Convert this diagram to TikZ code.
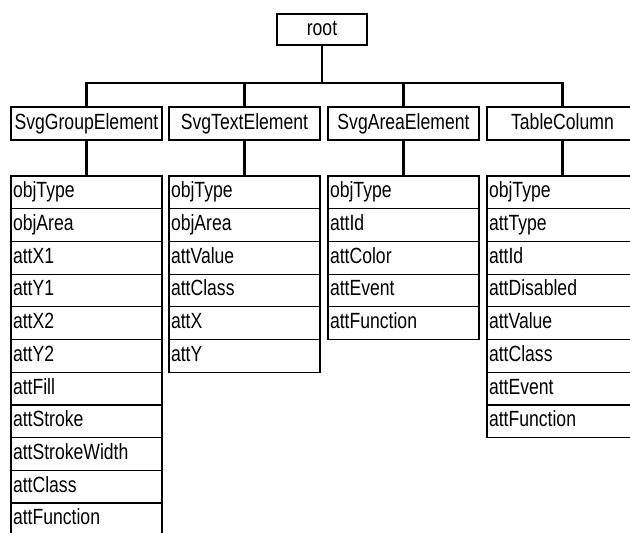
\documentclass[tikz,border=0pt]{standalone}
\usepackage{fontspec}
\setmainfont{Liberation Sans}
\newcommand{\lbl}[1]{\scalebox{0.8}[1]{\fontsize{22}{22}\selectfont #1}}
\tikzset{
  box/.style={draw=black, line width=1.2pt, inner sep=0pt, minimum height=33pt, minimum width=151pt, text height=16pt, text depth=5pt},
  rootbox/.style={draw=black, line width=1.2pt, inner sep=0pt, minimum height=31pt, minimum width=90pt, text height=16pt, text depth=5pt},
  rowbox/.style={draw=black, line width=1.2pt, inner xsep=2pt, inner ysep=0pt, text width=147pt, align=left, minimum height=32.7pt, text height=16pt, text depth=5pt},
  conn/.style={draw=black, line width=2.8pt}
}
\begin{document}
\begin{tikzpicture}[x=1pt,y=-1pt]
\useasboundingbox[fill=white] (0,0) rectangle (630,533);
\node[rootbox] (root) at (322,29.5) {\lbl{root}};
\node[box] (sge) at (86.5,123.5) {\lbl{SvgGroupElement}};
\node[box] (ste) at (244.5,123.5) {\lbl{SvgTextElement}};
\node[box] (sae) at (403.5,123.5) {\lbl{SvgAreaElement}};
\node[box] (tc) at (562.5,123.5) {\lbl{TableColumn}};
\coordinate (bar) at (322,83);
\foreach \t [count=\i] in {objType,objArea,attX1,attY1,attX2,attY2,attFill,attStroke,attStrokeWidth,attClass,attFunction}
  \node[rowbox] (g\i) at (86.5,{176+(\i-0.5)*32.7}) {\lbl{\t}};
\foreach \t [count=\i] in {objType,objArea,attValue,attClass,attX,attY}
  \node[rowbox] (t\i) at (244.5,{176+(\i-0.5)*32.7}) {\lbl{\t}};
\foreach \t [count=\i] in {objType,attId,attColor,attEvent,attFunction}
  \node[rowbox] (a\i) at (403.5,{176+(\i-0.5)*32.7}) {\lbl{\t}};
\foreach \t [count=\i] in {objType,attType,attId,attDisabled,attValue,attClass,attEvent,attFunction}
  \node[rowbox] (c\i) at (562.5,{176+(\i-0.5)*32.7}) {\lbl{\t}};
\draw[conn] (root.south) -- (bar);
\draw[conn] (bar) -| (sge.north);
\draw[conn] (bar) -| (ste.north);
\draw[conn] (bar) -| (sae.north);
\draw[conn] (bar) -| (tc.north);
\draw[conn] (sge.south) -- (g1.north);
\draw[conn] (ste.south) -- (t1.north);
\draw[conn] (sae.south) -- (a1.north);
\draw[conn] (tc.south) -- (c1.north);
\end{tikzpicture}
\end{document}
